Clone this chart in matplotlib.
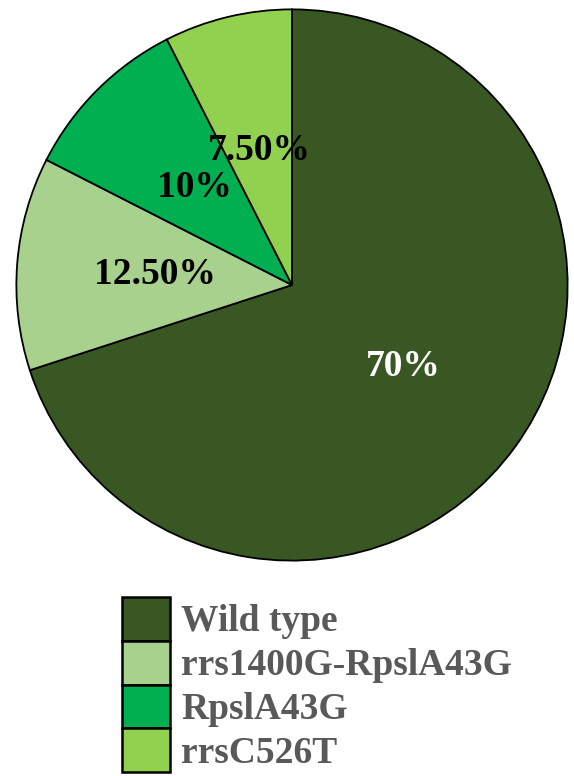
import matplotlib
matplotlib.use('Agg')
import matplotlib.pyplot as plt

# data
labels = ['Wild type', 'rrs1400G-RpslA43G', 'RpslA43G', 'rrsC526T']
shares = [70, 12.5, 10, 7.5]
colors = ['#385723', '#A9D18E', '#00B050', '#92D050']
pct_colors = ['white', 'black', 'black', 'black']


def fmt_pct(p):
    p = round(p, 2)
    if p == int(p):
        return '%d%%' % p
    return '%.2f%%' % p


plt.rcParams['font.family'] = ['Liberation Serif', 'DejaVu Serif']
plt.rcParams['font.weight'] = 'bold'

fig = plt.figure(figsize=(5.74, 7.76), dpi=100)
ax = fig.add_axes([15 / 574, 214 / 776, 554 / 574, 554 / 776])

wedges, texts, autotexts = ax.pie(shares, colors=colors, startangle=90, counterclock=False,
                                  autopct=fmt_pct, pctdistance=0.5,
                                  wedgeprops=dict(edgecolor='black', linewidth=1.3),
                                  textprops=dict(fontsize=27, fontweight='bold'))
for t, c in zip(autotexts, pct_colors):
    t.set_color(c)
ax.set_xlim(-1.005, 1.005)
ax.set_ylim(-1.005, 1.005)
ax.set_aspect('equal')

leg = fig.legend(wedges, labels, loc='upper left', bbox_to_anchor=(122 / 574, 1 - 597 / 776),
                 frameon=False, fontsize=27, handlelength=1.27, handleheight=1.42,
                 labelspacing=0.0, handletextpad=0.3, borderpad=0, borderaxespad=0)
for p in leg.get_patches():
    p.set_linewidth(1.8)
for t in leg.get_texts():
    t.set_color('#595959')
    t.set_fontweight('bold')

fig.savefig('out.png', dpi=100)
